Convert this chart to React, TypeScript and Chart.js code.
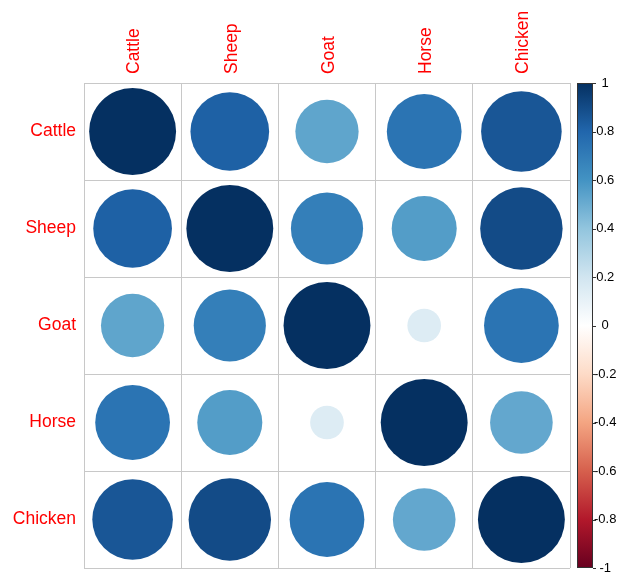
import React, { useEffect, useRef } from "react";
import { Chart, registerables } from "chart.js";

Chart.register(...registerables);

const categories = ["Cattle", "Sheep", "Goat", "Horse", "Chicken"];
const rowCattle = [1, 0.82, 0.53, 0.74, 0.86];
const rowSheep = [0.82, 1, 0.69, 0.56, 0.9];
const rowGoat = [0.53, 0.69, 1, 0.15, 0.74];
const rowHorse = [0.74, 0.56, 0.15, 1, 0.52];
const rowChicken = [0.86, 0.9, 0.74, 0.52, 1];
const matrix = [rowCattle, rowSheep, rowGoat, rowHorse, rowChicken];

// RdBu palette from -1 to 1
const palette = [
  "#67001F", "#B2182B", "#D6604D", "#F4A582", "#FDDBC7", "#FFFFFF",
  "#D1E5F0", "#92C5DE", "#4393C3", "#2166AC", "#053061",
];

function hexToRgb(h: string) {
  const n = parseInt(h.slice(1), 16);
  return [(n >> 16) & 255, (n >> 8) & 255, n & 255];
}

function colorFor(v: number) {
  const t = ((v + 1) / 2) * (palette.length - 1);
  const i = Math.min(palette.length - 2, Math.max(0, Math.floor(t)));
  const f = t - i;
  const a = hexToRgb(palette[i]);
  const b = hexToRgb(palette[i + 1]);
  const c = a.map((x, k) => Math.round(x + (b[k] - x) * f));
  return `rgb(${c[0]},${c[1]},${c[2]})`;
}

const FONT = "'Liberation Sans', Arial, sans-serif";

const colorbarPlugin = {
  id: "colorbar",
  afterDraw(chart: any) {
    const y2 = chart.scales.y2;
    if (!y2) return;
    const ctx = chart.ctx;
    const top = y2.getPixelForValue(1);
    const bottom = y2.getPixelForValue(-1);
    const x0 = chart.chartArea.right + 7;
    const w = 16;
    const g = ctx.createLinearGradient(0, bottom, 0, top);
    palette.forEach((c, i) => g.addColorStop(i / (palette.length - 1), c));
    ctx.save();
    ctx.fillStyle = g;
    ctx.fillRect(x0, top, w, bottom - top);
    ctx.strokeStyle = "#333333";
    ctx.lineWidth = 1;
    ctx.strokeRect(x0 + 0.5, top + 0.5, w - 1, bottom - top - 1);
    ctx.beginPath();
    y2.ticks.forEach((t: any) => {
      const y = Math.round(y2.getPixelForValue(t.value)) + 0.5;
      ctx.moveTo(x0 + w, y);
      ctx.lineTo(x0 + w + 3, y);
    });
    ctx.stroke();
    ctx.restore();
  },
};

function radiusFor(ctx: any) {
  const ca = ctx.chart.chartArea;
  if (!ca || !ctx.raw) return 0;
  const cell = Math.min(ca.right - ca.left, ca.bottom - ca.top) / categories.length;
  return Math.sqrt(Math.abs(ctx.raw.v)) * cell * 0.448;
}

export default function App() {
  const ref = useRef<HTMLCanvasElement>(null);
  useEffect(() => {
    if (!ref.current) return;
    const points: any[] = [];
    matrix.forEach((row, i) =>
      row.forEach((v, j) => points.push({ x: categories[j], y: categories[i], v }))
    );
    const chart = new Chart(ref.current, {
      type: "scatter",
      data: {
        datasets: [
          {
            data: points,
            pointRadius: radiusFor,
            pointHoverRadius: radiusFor,
            pointBackgroundColor: (ctx: any) => (ctx.raw ? colorFor(ctx.raw.v) : "#fff"),
            pointBorderWidth: 0,
            pointHoverBorderWidth: 0,
          } as any,
        ],
      },
      options: {
        responsive: false,
        animation: false,
        events: [],
        layout: { padding: { left: 0, right: 0, top: 0, bottom: 10 } },
        plugins: { legend: { display: false }, tooltip: { enabled: false } },
        scales: {
          x: {
            type: "category",
            labels: categories,
            position: "top",
            offset: true,
            grid: { offset: true, color: "#c8c8c8", drawTicks: false },
            border: { color: "#c8c8c8" },
            ticks: {
              color: "red",
              font: { family: FONT, size: 17.5 },
              maxRotation: 90,
              minRotation: 90,
              padding: 9,
              labelOffset: 23,
            },
            afterFit: (s: any) => {
              s.height = 83;
              s.paddingLeft = 0;
              s.paddingRight = 0;
            },
          },
          y: {
            type: "category",
            labels: categories,
            position: "left",
            offset: true,
            grid: { offset: true, color: "#c8c8c8", drawTicks: false },
            border: { color: "#c8c8c8" },
            ticks: {
              color: "red",
              font: { family: FONT, size: 17.5 },
              padding: 8,
            },
            afterFit: (s: any) => {
              s.width = 84;
              s.paddingTop = 0;
              s.paddingBottom = 0;
            },
          },
          y2: {
            type: "linear",
            position: "right",
            min: -1,
            max: 1,
            grid: { display: false, drawTicks: false },
            border: { display: false },
            ticks: {
              stepSize: 0.2,
              color: "#000",
              font: { family: FONT, size: 13 },
              padding: 24,
              crossAlign: "center",
              callback: (v: any) => String(Math.round(Number(v) * 10) / 10),
            },
            afterFit: (s: any) => {
              s.width = 49;
              s.paddingTop = 0;
              s.paddingBottom = 0;
            },
          },
        },
      } as any,
      plugins: [colorbarPlugin],
    });
    return () => chart.destroy();
  }, []);
  return (
    <div style={{ position: "fixed", left: 0, top: 0, width: 619, height: 578, background: "#fff" }}>
      <canvas ref={ref} width={619} height={578} style={{ display: "block" }} />
    </div>
  );
}
